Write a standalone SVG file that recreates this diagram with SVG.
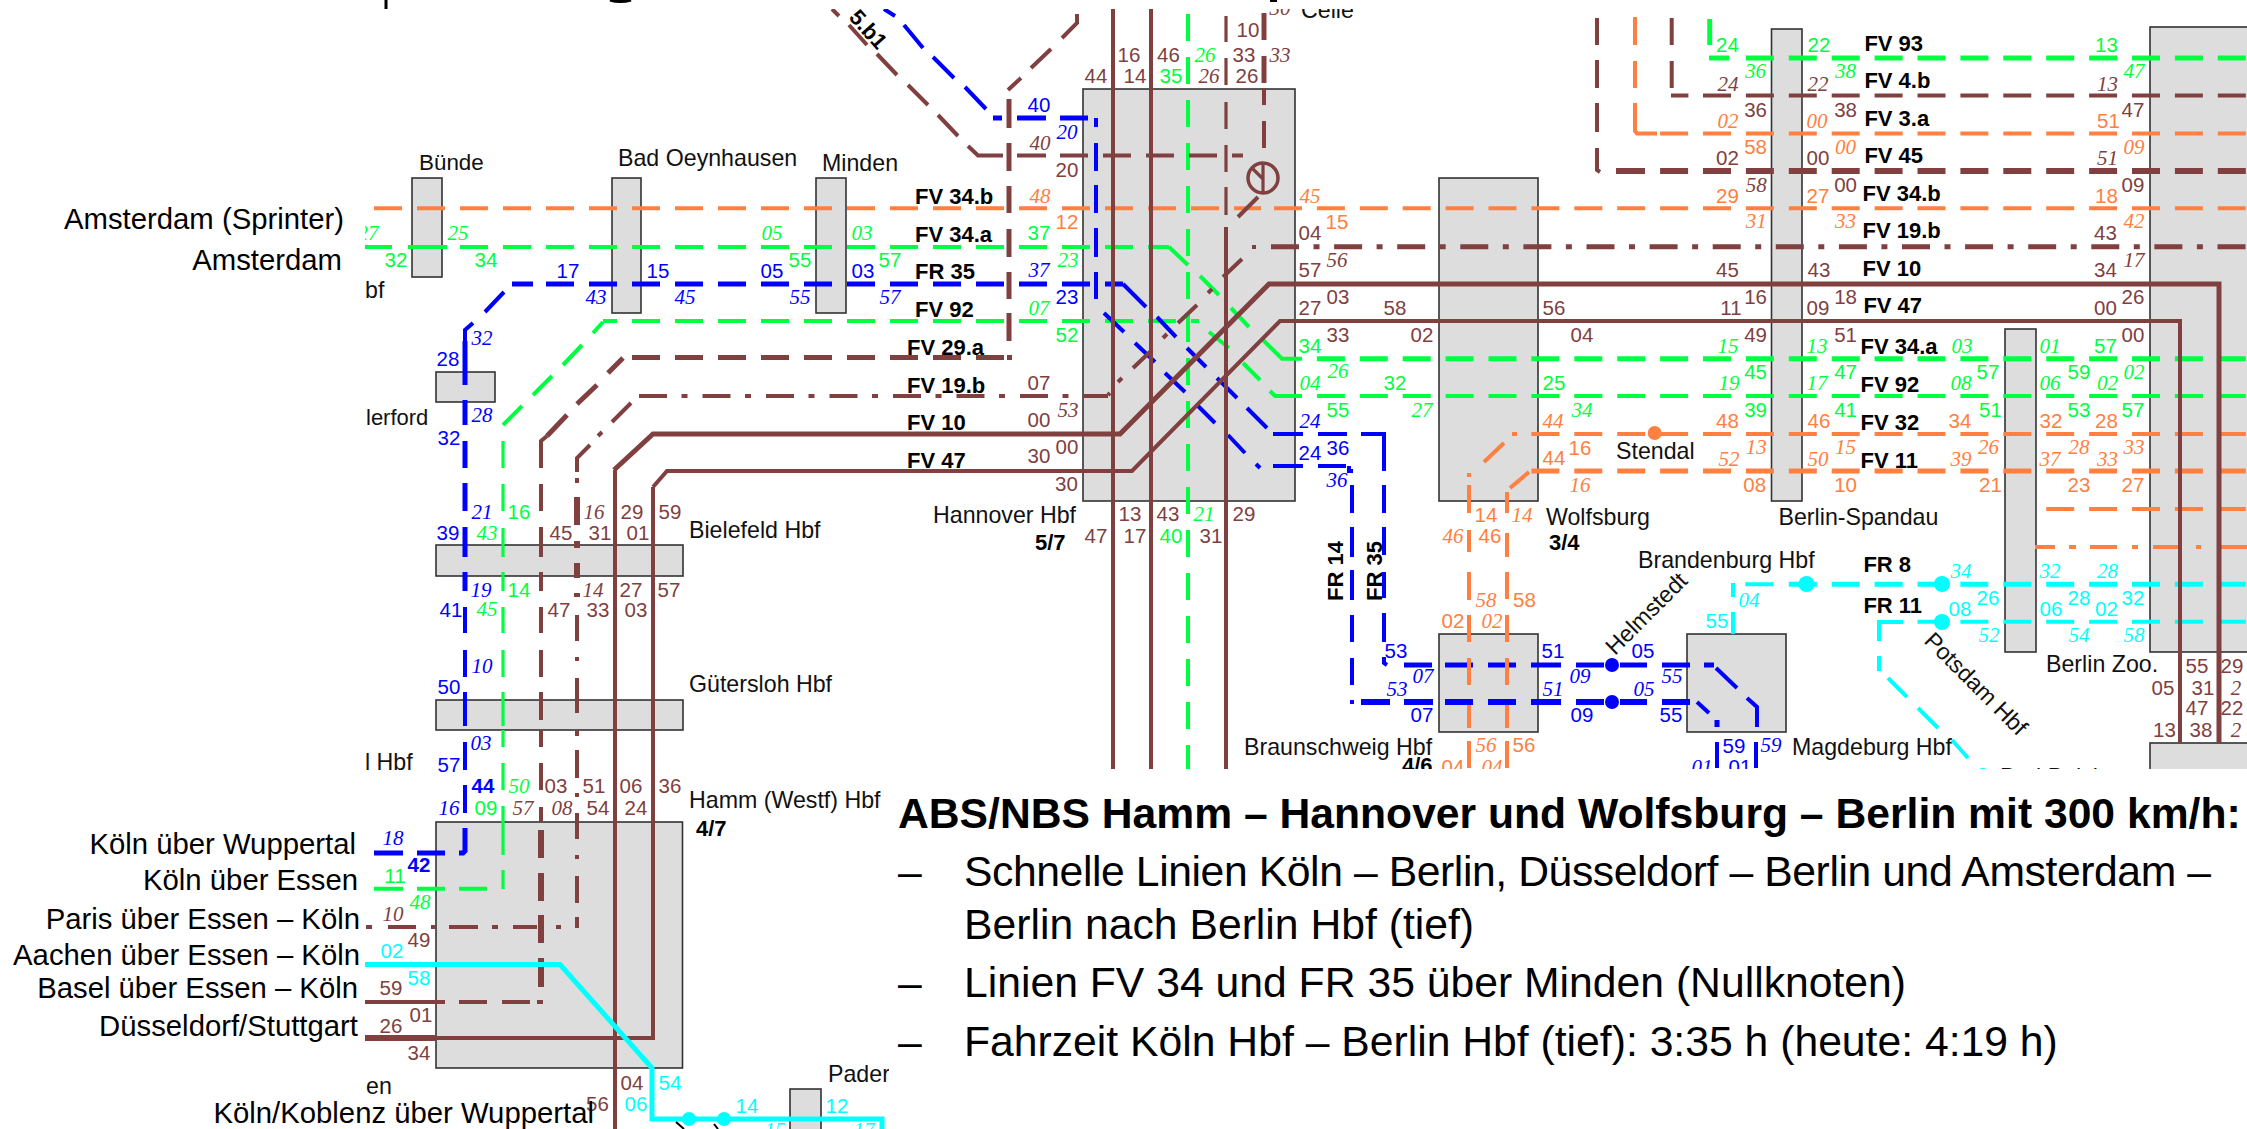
<svg xmlns="http://www.w3.org/2000/svg" width="2247" height="1129" viewBox="0 0 2247 1129">
<style>
text{font-family:"Liberation Sans",Arial,sans-serif}
.b{fill:#ddd;stroke:#333;stroke-width:1.6}
.s{font-size:23.2px;fill:#111}
.k{font-size:22px;font-weight:bold;fill:#000}
.l{font-size:29.3px;fill:#000;text-anchor:end}
.n text{font-size:20.5px;text-anchor:middle}
.i text{font-family:"Liberation Serif",serif;font-style:italic;font-size:21px;text-anchor:middle}
.O text{fill:#ff8040}.G text{fill:#00ff40}.U text{fill:#0000ff}.R text{fill:#804040}.C text{fill:#00ffff}
path{fill:none}
.o{stroke:#ff8040}.g{stroke:#00ff40}.u{stroke:#0000ff}.r{stroke:#804040}.c{stroke:#00ffff}
.w3{stroke-width:3.2}.w4{stroke-width:4}.w5{stroke-width:5}.w6{stroke-width:6}.w7{stroke-width:7}
.d{stroke-dasharray:28 15}.e{stroke-dasharray:28 14.9}.dd{stroke-dasharray:28 14.5 6 15}.ee{stroke-dasharray:28 14.5 6 14.6}.v{stroke-dasharray:27 16}
.h{font-size:42.65px;font-weight:bold;fill:#000}
.p{font-size:42.7px;fill:#000}
</style>
<defs><clipPath id="m"><path d="M365 9H2247V769H889V1129H365Z"/></clipPath></defs>
<path d="M386 0V9" stroke="#000" stroke-width="3"/>
<path d="M610 0Q620 3 631 0" stroke="#000" stroke-width="3"/>
<path d="M1270 1H1277" stroke="#000" stroke-width="2"/>
<g clip-path="url(#m)">
<g id="buende"><rect class="b" x="412" y="178" width="30" height="99"/><text class="s" style="font-size:22.4px" x="419" y="170">Bünde</text></g>
<g id="bad-oeynhausen"><rect class="b" x="612" y="178" width="29" height="135"/><text class="s" x="618" y="166">Bad Oeynhausen</text></g>
<g id="minden"><rect class="b" x="816" y="178" width="30" height="135"/><text class="s" x="822" y="171">Minden</text></g>
<g id="herford"><rect class="b" x="436" y="372" width="59" height="30"/><text class="s" style="font-size:22px" x="366" y="425">lerford</text></g>
<g id="osnabrueck"><text class="s" x="365" y="298">bf</text></g>
<g id="bielefeld"><rect class="b" x="436" y="545" width="247" height="31"/><text class="s" x="689" y="538">Bielefeld Hbf</text></g>
<g id="guetersloh"><rect class="b" x="436" y="700" width="247" height="30"/><text class="s" x="689" y="692">Gütersloh Hbf</text></g>
<g id="wiedenbrueck"><text class="s" x="365" y="770">l Hbf</text></g>
<g id="hamm"><rect class="b" x="436" y="822" width="246.500" height="246"/><text class="s" x="689" y="808">Hamm (Westf) Hbf</text><text class="k" x="696" y="836">4/7</text></g>
<g id="paderborn"><rect class="b" x="790" y="1089" width="31" height="60"/><text class="s" x="828" y="1082">Paderl</text></g>
<g id="essen"><text class="s" x="366" y="1094">en</text></g>
<g id="hannover"><rect class="b" x="1083" y="89" width="212" height="412"/><text class="s" x="933" y="523">Hannover Hbf</text><text class="k" x="1035" y="550">5/7</text></g>
<g id="celle"><text class="s" x="1301" y="18">Celle</text></g>
<g id="wolfsburg"><rect class="b" x="1439" y="178" width="99" height="323"/><text class="s" x="1546" y="525">Wolfsburg</text><text class="k" x="1549" y="550">3/4</text></g>
<g id="braunschweig"><rect class="b" x="1439" y="634" width="99" height="98"/><text class="s" x="1244" y="755">Braunschweig Hbf</text><text class="k" x="1402" y="773">4/6</text></g>
<g id="magdeburg"><rect class="b" x="1687" y="634" width="99" height="98"/><text class="s" x="1792" y="755">Magdeburg Hbf</text></g>
<g id="helmstedt"><text class="s" transform="translate(1615 656) rotate(-45)">Helmstedt</text></g>
<g id="stendal"><text class="s" x="1616" y="459">Stendal</text></g>
<g id="brandenburg"><text class="s" x="1638" y="568">Brandenburg Hbf</text></g>
<g id="potsdam"><text class="s" transform="translate(1923 642) rotate(45)">Potsdam Hbf</text></g>
<g id="bad-belzig"><text class="s" x="2000" y="785">Bad Belzig</text></g>
<g id="spandau"><rect class="b" x="1771.500" y="29" width="30.500" height="472"/><text class="s" x="1778.500" y="525">Berlin-Spandau</text></g>
<g id="zoo"><rect class="b" x="2005" y="329" width="31" height="323"/><text class="s" x="2046" y="672">Berlin Zoo.</text></g>
<g id="berlin-hbf"><rect class="b" x="2150" y="27" width="110" height="625"/><rect class="b" x="2150" y="743" width="110" height="60"/></g>

<g id="connectors">
<path class="g w4 v" d="M1188 14V770"/>
<path class="o w4 d" d="M374 208.300H1261"/><path class="o w4 e" d="M1274 208.300H2247"/>
<path class="g w4" d="M365 247H392M408 247H447"/>
<path class="g w4 d" d="M460 247H1169"/>
<path class="g w4" d="M1169 247L1188 265M1200 276L1219 295M1231 308L1249 327M1263 340L1282 358.700H1302"/>
<path class="g w5 e" d="M1316.900 358.700H2247"/>
<path class="g w4" d="M603 322L593 333M582 345L563 365M552 376L533 395M522 406L503 425M603 321H617"/>
<path class="g w4 d" d="M632 321H1199"/>
<path class="g w4" d="M1209 332L1229 348M1243 363L1260 380M1270 391L1275 396"/>
<path class="g w4 e" d="M1274 396H2247"/>
<path class="g w3" d="M503 441V468M503 484V511M503 528V557M503 572V591M503 607V633M503 650V677M503 692V726M503 730V747M503 763V790M503 806V855M503 870V889"/>
<path class="g w4" d="M374 888.700H403M417 888.700H445M459 888.700H487"/>
<path class="g w5 e" d="M1745.900 58H2247"/><path class="g w5" d="M1709 58H1729M1709.700 19V45"/>
<path class="u w5" d="M465 341V385M465 400V425M465 441V468M465 483V511M465 527V557M465 572V591"/>
<path class="u w4" d="M504 292L485 312M473 323L465 330V341M465 607V633M465 650V677M465 692V726M465 742V770M465 785V813"/>
<path class="u w5" d="M465 828V851L463 853H459M417 853H445M374 853H403"/>
<path class="u w5" d="M512 284H533"/>
<path class="u w5 d" d="M546 284H1123"/>
<path class="u w4" d="M1123 284L1146 307M1157 317L1176 337M1187 348L1206 367M1217 378L1237 398M1247 408L1267 428"/>
<path class="u w4" d="M1104 313L1124 332M1135 343L1155 362M1165 373L1185 392M1198 406L1215 423M1228 435L1245 453M1256 464L1260 468"/>
<path class="u w5" d="M993 118H1002M1017 118H1046M1060 118H1088"/>
<path class="u w4" d="M1096 118V127M1096 143V171M1096 185V213M1096 228V257M1096 272V299"/>
<path class="u w4" d="M884 9L895 16M904 25L923 48M933 57L954 78M965 87L986 109"/>
<path class="u w4" d="M1273 466H1303M1318 466H1346M1349 466V471H1353"/>
<path class="u w4" d="M1273 434H1303M1318 434H1347M1361 434H1384V443M1384 443V471M1384 485V513M1384 527V555M1384 572V598M1384 613V642M1384 657V663L1387 665"/>
<path class="u w4" d="M1352 485V513M1352 527V557M1352 570V600M1352 615V642M1352 658V685M1350 702H1354"/>
<path class="u w5" d="M1404 665H1432M1445 665H1473M1488 665H1516M1531 665H1561M1576 665H1604M1620 665H1647M1662 665H1690M1704 665H1714"/>
<path class="u w4" d="M1716 668L1737 688M1747 698L1757 707V727"/>
<path class="u w6" d="M1361 702H1390M1404 702H1433M1445 702H1473M1488 702H1516M1531 702H1561M1576 702H1604M1620 702H1647M1662 702H1690"/>
<path class="u w4" d="M1697 702L1709 713"/><path class="u w5" d="M1717 720V727"/>
<path class="u w4" d="M1717 742V768M1756 742V768"/>
<g fill="#0000ff"><circle cx="1612" cy="665" r="7"/><circle cx="1612" cy="702" r="7"/></g>
<path class="r w4" d="M832 9L839 16M849 25L867 45M877 54L897 75M908 85L928 105M938 115L958 136M968 146L978 155.500H1003M1017 155.500H1046M1060 155.500H1088M1103 155.500H1131M1146 155.500H1174M1189 155.500H1217M1232 155.500H1243"/>
<path class="r w5" d="M1009 99V128M1009 143V171M1009 186V213M1009 229V257M1009 272V299M1009 313V341"/>
<path class="r w4" d="M1008 90L1021 78M1031 68L1051 49M1062 38L1077 23V14"/>
<path class="r w5 d" d="M632 357.500H1004"/><path class="r w5" d="M1007 357.500H1012M623 358L608 373M597 385L577 404M567 415L547 436"/>
<path class="r w4" d="M547 436L541 441V468M541 484V511M541 527V557M541 572V591M541 607V633M541 650V677M541 692V720M541 730V747M541 763V790M541 807V822"/>
<path class="r w6" d="M541 830V858M541 873V901M541 915V943M541 958V987"/>
<path class="r w4" d="M365 1002H445M459 1002H487M502 1002H530M537 1002H543"/>
<path class="r w4 dd" d="M639 396H1108"/>
<path class="r w4" d="M1108 395L1110 393M1118 382L1122 378M1133 368L1152 350M1163 338L1167 334M1178 323L1197 305M1208 293L1212 289M1223 277L1242 259"/>
<path class="r w5 ee" d="M1271 246.700H2247"/>
<path class="r w4" d="M1252 247H1256"/>
<path class="r w4" d="M631 403L612 422M602 432L598 436M590 445L577 458V472M577 478V483M577 615V641M577 657V661M577 678V713M577 730V736M577 750V778M577 793V797M577 813V839M577 855V859M577 876V903M577 917V928"/>
<path class="r w6" d="M577 497V525M577 541V548M577 563V578M577 593V597"/>
<path class="r w4" d="M366 927H372M388 927H416M431 927H436M449 927H478M492 927H498M513 927H537M556 927H561"/>
<path class="r w3" d="M1226 16V42M1226 58V85M1226 102V129M1226 145V172M1226 187V215"/>
<path class="r w4" d="M1226 227V770"/>
<path class="r w5" d="M1264 13V40M1264 56V83"/><path class="r w4" d="M1264 88V105M1264 121V148M1258 197L1238 217"/>
<circle cx="1263" cy="178" r="15" fill="none" stroke="#804040" stroke-width="3.500"/>
<path class="r w3" d="M1263 163V193M1252 168L1263 179"/>
<path class="r w4" d="M1597 18V45M1597 60V88M1597 103V132M1597 148V170L1600 172"/><path class="r w6" d="M1616 171H1645"/>
<path class="r w6 e" d="M1660.100 171H2247"/>
<path class="r w4" d="M1671.700 18V45M1671.700 61V88M1671 95.600H1688.400"/><path class="r w4 e" d="M1703 95.600H2247"/>
<path class="o w4" d="M1635 17V45M1635 61V88M1635 103V131L1637 133.400H1657"/><path class="o w4 e" d="M1660.100 133.400H2247"/>
<path class="o w4" d="M1512 434H1517M1504 443L1484 462M1469 473V477M1469 485V513M1469 530V552M1469 572V600M1469 615V642M1469 658V685M1469 705V728M1469 741V768"/>
<path class="o w4" d="M1529 472L1510 488M1507 492V513M1507 533V557M1507 572V599M1507 615V642M1507 658V685M1507 705V728M1507 741V768"/>
<path class="o w4 e" d="M1531.400 434H2247"/><path class="o w5 e" d="M1531.400 471H2247"/>
<circle cx="1654.700" cy="433" r="7" fill="#ff8040"/>
<path class="o w4 e" d="M2046.200 509H2247"/>
<path class="o w4" d="M2035 547H2055M2069 547H2076M2090 547H2117M2132 547H2138M2153 547H2178M2196 547H2201M2217 547H2247"/>
<path class="c w4" d="M1733 583V597M1733 612V634M1745.300 584.300H1773.600"/><path class="c w5 e" d="M1788.800 584.300H2247"/>
<path class="c w4" d="M1879 641V622H1903M1879 656V671M1888 678L1907 697M1918 708L1938 728M1952 740L1968 758"/><path class="c w4 e" d="M1917.500 621.700H2247"/>
<g fill="#00ffff"><circle cx="1806.500" cy="584" r="8"/><circle cx="1942" cy="584" r="8"/><circle cx="1942" cy="622" r="8"/><circle cx="1983" cy="776" r="8"/></g>
<path class="r w5" d="M614 470L653 434H1120L1269 284H2219V743"/>
<path class="r w4" d="M1113 9V770M1151 9V770"/>
<path class="r w4" d="M615 470V1129"/>
<path class="r w4" d="M653 487L667 471H1132L1280 321H2180V743M653 487V1038H436"/>
<path class="r w6" d="M365 1038H436"/>
<path class="c w5" d="M365 964.500H560L652 1068V1119H882V1129"/>
<g fill="#00ffff"><circle cx="689" cy="1119" r="7"/><circle cx="724" cy="1119" r="7"/></g>
<path stroke="#000" stroke-width="2" d="M676 1122L684 1129M714 1124L718 1129"/>
</g>

<g id="line-names">
<text class="k" x="915" y="204">FV 34.b</text><text class="k" x="915" y="242">FV 34.a</text><text class="k" x="915" y="279">FR 35</text><text class="k" x="915" y="317">FV 92</text><text class="k" x="907" y="355">FV 29.a</text><text class="k" x="907" y="393">FV 19.b</text><text class="k" x="907" y="430">FV 10</text><text class="k" x="907" y="468">FV 47</text>
<text class="k" x="1864.400" y="51">FV 93</text><text class="k" x="1864.400" y="88">FV 4.b</text><text class="k" x="1864.400" y="126">FV 3.a</text><text class="k" x="1864.400" y="163">FV 45</text><text class="k" x="1862.500" y="201">FV 34.b</text><text class="k" x="1862.500" y="238">FV 19.b</text><text class="k" x="1862.500" y="276">FV 10</text><text class="k" x="1863.400" y="313">FV 47</text><text class="k" x="1860.500" y="354">FV 34.a</text><text class="k" x="1860.500" y="392">FV 92</text><text class="k" x="1860.500" y="430">FV 32</text><text class="k" x="1860.500" y="468">FV 11</text>
<text class="k" x="1863.400" y="572">FR 8</text><text class="k" x="1863.400" y="613">FR 11</text>
<text class="k" transform="translate(1343 601) rotate(-90)">FR 14</text><text class="k" transform="translate(1382 601) rotate(-90)">FR 35</text>
<text class="k" transform="translate(848 18) rotate(48)">5.b1</text>
</g>

<g id="times">
<g class="n G">
<text x="396" y="267">32</text><text x="486" y="267">34</text><text x="800" y="267">55</text><text x="890" y="267">57</text>
<text x="519" y="519">16</text><text x="519" y="597">14</text><text x="486" y="815">09</text><text x="395" y="883">11</text>
<text x="1171" y="83">35</text><text x="1171" y="543">40</text>
<text x="1039" y="240">37</text><text x="1067" y="342">52</text><text x="1310" y="353">34</text><text x="1338" y="417">55</text>
<text x="1395" y="390">32</text><text x="1554" y="390">25</text>
<text x="1727.500" y="52">24</text><text x="1819" y="52">22</text><text x="2106.500" y="52">13</text>
<text x="2105.500" y="353">57</text><text x="1755.600" y="379">45</text><text x="1845.600" y="379">47</text><text x="1988" y="379">57</text><text x="2079" y="379">59</text>
<text x="1755.600" y="417">39</text><text x="1845.600" y="417">41</text><text x="1990.400" y="417">51</text><text x="2079" y="417">53</text><text x="2133" y="417">57</text>
</g>
<g class="i G">
<text x="368" y="240">27</text><text x="458" y="240">25</text><text x="772" y="240">05</text><text x="862" y="240">03</text>
<text x="487" y="540">43</text><text x="487" y="616">45</text><text x="519" y="793">50</text><text x="420" y="909">48</text>
<text x="1205" y="62">26</text><text x="1204" y="521">21</text><text x="1068" y="267">23</text><text x="1039" y="315">07</text><text x="1338" y="378">26</text><text x="1310" y="390">04</text><text x="1422" y="417">27</text><text x="1582" y="417">34</text>
<text x="1755.600" y="78">36</text><text x="1845.600" y="78">38</text><text x="2134" y="78">47</text>
<text x="1728" y="353">15</text><text x="1817" y="353">13</text><text x="1962" y="353">03</text><text x="2050" y="353">01</text><text x="2134" y="379">02</text>
<text x="1729" y="390">19</text><text x="1817" y="390">17</text><text x="1961" y="390">08</text><text x="2050" y="390">06</text><text x="2107.500" y="390">02</text>
</g>
<g class="n U">
<text x="568" y="278">17</text><text x="658" y="278">15</text><text x="772" y="278">05</text><text x="863" y="278">03</text>
<text x="448" y="366">28</text><text x="449" y="445">32</text><text x="448" y="540">39</text><text x="451" y="617">41</text><text x="449" y="694">50</text><text x="449" y="772">57</text>
<text x="483" y="793" font-weight="bold">44</text><text x="419" y="872" font-weight="bold">42</text>
<text x="1039" y="112">40</text><text x="1067" y="304">23</text><text x="1310" y="460">24</text><text x="1338" y="455">36</text>
<text x="1396" y="658">53</text><text x="1422" y="722">07</text><text x="1553" y="658">51</text><text x="1582" y="722">09</text><text x="1643" y="658">05</text><text x="1671" y="722">55</text>
<text x="1734" y="753">59</text><text x="1740" y="774">01</text>
</g>
<g class="i U">
<text x="596" y="304">43</text><text x="685" y="304">45</text><text x="800" y="304">55</text><text x="890" y="304">57</text>
<text x="482" y="345">32</text><text x="482" y="422">28</text><text x="482" y="519">21</text><text x="481" y="597">19</text><text x="482" y="673">10</text><text x="481" y="750">03</text><text x="449" y="815">16</text><text x="393" y="845">18</text>
<text x="1067" y="139">20</text><text x="1039" y="277">37</text><text x="1310" y="428">24</text><text x="1337" y="487">36</text>
<text x="1397" y="696">53</text><text x="1423" y="683">07</text><text x="1553" y="696">51</text><text x="1580" y="683">09</text><text x="1644" y="696">05</text><text x="1672" y="683">55</text>
<text x="1771" y="752">59</text><text x="1702" y="774">01</text>
</g>
<g class="n R">
<text x="632" y="519">29</text><text x="670" y="519">59</text><text x="561" y="540">45</text><text x="600" y="540">31</text><text x="638" y="540">01</text>
<text x="631" y="597">27</text><text x="669" y="597">57</text><text x="559" y="617">47</text><text x="598" y="617">33</text><text x="636" y="617">03</text>
<text x="556" y="793">03</text><text x="594" y="793">51</text><text x="631" y="793">06</text><text x="670" y="793">36</text><text x="598" y="815">54</text><text x="636" y="815">24</text>
<text x="419" y="947">49</text><text x="391" y="995">59</text><text x="421" y="1022">01</text><text x="391" y="1033">26</text><text x="419" y="1060">34</text><text x="632" y="1090">04</text><text x="597.500" y="1111">56</text>
<text x="1248" y="37">10</text><text x="1244" y="62">33</text><text x="1247" y="83">26</text><text x="1129" y="62">16</text><text x="1168.500" y="62">46</text><text x="1096" y="83">44</text><text x="1135" y="83">14</text>
<text x="1067" y="177">20</text><text x="1039" y="390">07</text><text x="1039" y="427">00</text><text x="1039" y="463">30</text><text x="1067" y="454">00</text><text x="1066.500" y="491">30</text>
<text x="1130" y="521">13</text><text x="1168" y="521">43</text><text x="1244" y="521">29</text><text x="1096" y="543">47</text><text x="1135" y="543">17</text><text x="1211" y="543">31</text>
<text x="1310" y="240">04</text><text x="1310" y="277">57</text><text x="1338" y="304">03</text><text x="1310" y="315">27</text><text x="1338" y="342">33</text>
<text x="1395" y="315">58</text><text x="1422" y="342">02</text><text x="1554" y="315">56</text><text x="1582" y="342">04</text>
<text x="1755.600" y="117">36</text><text x="1845.600" y="117">38</text><text x="2133" y="117">47</text><text x="1727.500" y="165">02</text><text x="1818" y="165">00</text>
<text x="1845.600" y="192">00</text><text x="2133" y="192">09</text><text x="2105.500" y="240">43</text>
<text x="1727.500" y="277">45</text><text x="1819" y="277">43</text><text x="2105.500" y="277">34</text><text x="1755.600" y="304">16</text><text x="1845.600" y="304">18</text><text x="2133" y="304">26</text>
<text x="1731" y="315">11</text><text x="1818" y="315">09</text><text x="2105.500" y="315">00</text><text x="1755.600" y="342">49</text><text x="1845.600" y="342">51</text><text x="2133" y="342">00</text>
<text x="2197" y="673">55</text><text x="2163" y="695">05</text><text x="2203" y="695">31</text><text x="2197" y="715">47</text><text x="2164.500" y="737">13</text><text x="2201" y="737">38</text><text x="2232" y="673">29</text><text x="2232" y="715">22</text>
</g>
<g class="i R">
<text x="594" y="519">16</text><text x="593" y="597">14</text><text x="523" y="815">57</text><text x="562" y="815">08</text><text x="393" y="921">10</text>
<text x="1280" y="15">30</text><text x="1280" y="62">33</text><text x="1209" y="83">26</text><text x="1040" y="150">40</text><text x="1068" y="417">53</text><text x="1337" y="267">56</text>
<text x="1728" y="91">24</text><text x="1818" y="91">22</text><text x="2107.500" y="91">13</text><text x="2107.500" y="165">51</text><text x="1756.200" y="192">58</text><text x="2134" y="267">17</text>
<text x="2236" y="695">2</text><text x="2236" y="737">2</text>
</g>
<g class="n O">
<text x="1067" y="229">12</text><text x="1337" y="229">15</text>
<text x="1580" y="455">16</text><text x="1554" y="465">44</text><text x="1486" y="522">14</text><text x="1490" y="543">46</text><text x="1524.500" y="607">58</text><text x="1453" y="628">02</text><text x="1524" y="752">56</text><text x="1453" y="774">04</text>
<text x="2108.500" y="128">51</text><text x="1755.600" y="154">58</text><text x="1727.500" y="203">29</text><text x="1818" y="203">27</text><text x="2106.500" y="203">18</text>
<text x="1727.500" y="428">48</text><text x="1819" y="428">46</text><text x="1960" y="428">34</text><text x="2051" y="428">32</text><text x="2106.500" y="428">28</text>
<text x="1754.700" y="492">08</text><text x="1845.600" y="492">10</text><text x="1990.400" y="492">21</text><text x="2079" y="492">23</text><text x="2133" y="492">27</text>
</g>
<g class="i O">
<text x="1040" y="203">48</text><text x="1310" y="203">45</text>
<text x="1553" y="428">44</text><text x="1580" y="492">16</text><text x="1522" y="522">14</text><text x="1453" y="543">46</text><text x="1486" y="607">58</text><text x="1492" y="628">02</text><text x="1486" y="752">56</text><text x="1492" y="774">04</text>
<text x="1728" y="128">02</text><text x="1817" y="128">00</text><text x="1845.600" y="154">00</text><text x="2134" y="154">09</text><text x="1756.200" y="228">31</text><text x="1845.600" y="228">33</text><text x="2134" y="228">42</text>
<text x="1756.200" y="454">13</text><text x="1845.600" y="454">15</text><text x="1988.400" y="454">26</text><text x="2079" y="454">28</text><text x="2134" y="454">33</text>
<text x="1729" y="466">52</text><text x="1818" y="466">50</text><text x="1961" y="466">39</text><text x="2050" y="466">37</text><text x="2107.500" y="466">33</text>
</g>
<g class="n C">
<text x="392" y="958">02</text><text x="419" y="985">58</text><text x="670" y="1090">54</text><text x="636" y="1111">06</text><text x="747" y="1113">14</text><text x="837" y="1113">12</text>
<text x="1717" y="628">55</text><text x="1988" y="605">26</text><text x="2079" y="605">28</text><text x="2133" y="605">32</text><text x="1960" y="616">08</text><text x="2051" y="616">06</text><text x="2106.500" y="616">02</text>
</g>
<g class="i C">
<text x="775" y="1137">15</text><text x="864" y="1137">17</text>
<text x="1961" y="578">34</text><text x="2050" y="578">32</text><text x="2107.500" y="578">28</text><text x="1749" y="607">04</text><text x="1989" y="642">52</text><text x="2079" y="642">54</text><text x="2134" y="642">58</text>
</g>
</g>
</g>

<g id="origins">
<text class="l" x="344" y="229">Amsterdam (Sprinter)</text>
<text class="l" x="342" y="270">Amsterdam</text>
<text class="l" x="356" y="854">Köln über Wuppertal</text>
<text class="l" x="358" y="890">Köln über Essen</text>
<text class="l" x="360" y="929">Paris über Essen – Köln</text>
<text class="l" x="360" y="965">Aachen über Essen – Köln</text>
<text class="l" x="358" y="998">Basel über Essen – Köln</text>
<text class="l" x="358" y="1036">Düsseldorf/Stuttgart</text>
<text class="l" x="594" y="1123">Köln/Koblenz über Wuppertal</text>
</g>
<g id="panel">
<text class="h" x="898" y="828">ABS/NBS Hamm – Hannover und Wolfsburg – Berlin mit 300 km/h:</text>
<text class="p" x="898" y="886">–</text><text class="p" x="964" y="886" textLength="1247">Schnelle Linien Köln – Berlin, Düsseldorf – Berlin und Amsterdam –</text>
<text class="p" x="964" y="939">Berlin nach Berlin Hbf (tief)</text>
<text class="p" x="898" y="997">–</text><text class="p" x="964" y="997">Linien FV 34 und FR 35 über Minden (Nullknoten)</text>
<text class="p" x="898" y="1056">–</text><text class="p" x="964" y="1056">Fahrzeit Köln Hbf – Berlin Hbf (tief): 3:35 h (heute: 4:19 h)</text>
</g>
</svg>
